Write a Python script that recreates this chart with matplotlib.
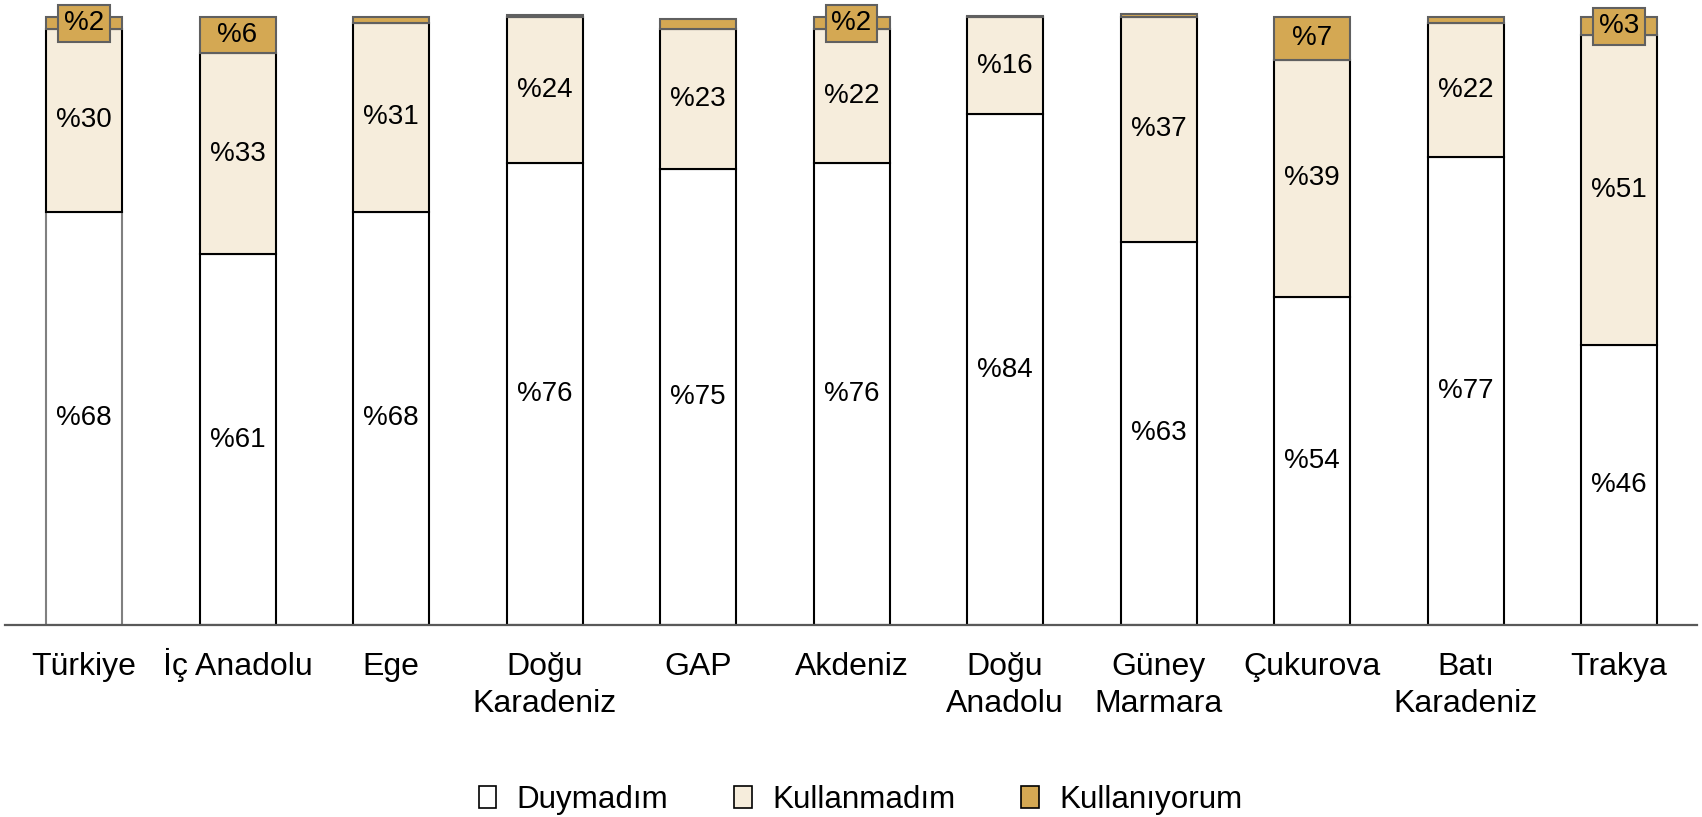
import numpy as np
import matplotlib.pyplot as plt
from matplotlib.patches import Patch

plt.rcParams['font.family'] = ['Liberation Sans', 'DejaVu Sans']

regions = ["Türkiye", "İç Anadolu", "Ege", "Doğu\nKaradeniz", "GAP", "Akdeniz",
           "Doğu\nAnadolu", "Güney\nMarmara", "Çukurova", "Batı\nKaradeniz", "Trakya"]
duymadim = [68, 61, 68, 76, 75, 76, 84, 63, 54, 77, 46]
kullanmadim = [30, 33, 31, 24, 23, 22, 16, 37, 39, 22, 51]
kullaniyorum = [2, 6, 1, 0.3, 1.7, 2, 0.2, 0.5, 7, 1, 3]

c_white = '#FFFFFF'
c_cream = '#F6EDDC'
c_gold = '#D4A853'
edge_gray = '#606060'

fig = plt.figure(figsize=(17.02, 8.17), dpi=100)
ax = fig.add_axes([5 / 1702, 192 / 817, 1692 / 1702, 625 / 817])

x = np.arange(len(regions))
w = 0.495
d = np.array(duymadim, dtype=float)
k = np.array(kullanmadim, dtype=float)
g = np.array(kullaniyorum, dtype=float)

# first bar (Türkiye) has a lighter outline on the bottom segment
edges_d = ['#808080'] + ['black'] * (len(regions) - 1)
ax.bar(x, d, w, color=c_white, edgecolor=edges_d, linewidth=1.5, zorder=2)
ax.bar(x, k, w, bottom=d, color=c_cream, edgecolor='black', linewidth=1.5, zorder=2)
ax.bar(x, g, w, bottom=d + k, color=c_gold, edgecolor=edge_gray, linewidth=1.5, zorder=3)

fs = 20
for i in range(len(regions)):
    ax.text(x[i], d[i] / 2, f"%{d[i]:.0f}", ha='center', va='center', fontsize=fs, zorder=4)
    ax.text(x[i], d[i] + k[i] / 2, f"%{k[i]:.0f}", ha='center', va='center', fontsize=fs, zorder=4)
    if g[i] >= 2:
        box = None
        if g[i] < 5:
            box = dict(boxstyle='square,pad=0.2', facecolor=c_gold, edgecolor=edge_gray, linewidth=1.5)
        ax.text(x[i], d[i] + k[i] + g[i] / 2, f"%{g[i]:.0f}", ha='center', va='center',
                fontsize=fs, bbox=box, zorder=5)

ax.set_xlim(-0.515, 10.508)
ax.set_ylim(0, 625 / 6.08)
ax.set_xticks([])
ax.set_yticks([])

# category names, one text per line so every first line shares a baseline
for i, name in enumerate(regions):
    for j, line in enumerate(name.split("\n")):
        ax.text(x[i], -(50 + 37 * j) / 625, line, transform=ax.get_xaxis_transform(),
                ha='center', va='baseline', fontsize=23)

for s in ['top', 'right', 'left']:
    ax.spines[s].set_visible(False)
ax.spines['bottom'].set_color('#595959')
ax.spines['bottom'].set_linewidth(1.6)
ax.spines['bottom'].set_zorder(6)

handles = [Patch(facecolor=c_white, edgecolor='black', linewidth=1.2, label='Duymadım'),
           Patch(facecolor=c_cream, edgecolor='black', linewidth=1.2, label='Kullanmadım'),
           Patch(facecolor=c_gold, edgecolor='black', linewidth=1.2, label='Kullanıyorum')]
fig.legend(handles=handles, loc='center', bbox_to_anchor=(0.5056, 0.021), ncol=3,
           frameon=False, fontsize=22.6, handlelength=0.57, handleheight=0.73,
           handletextpad=0.64, columnspacing=2.1)

fig.savefig('out.png', dpi=100)
